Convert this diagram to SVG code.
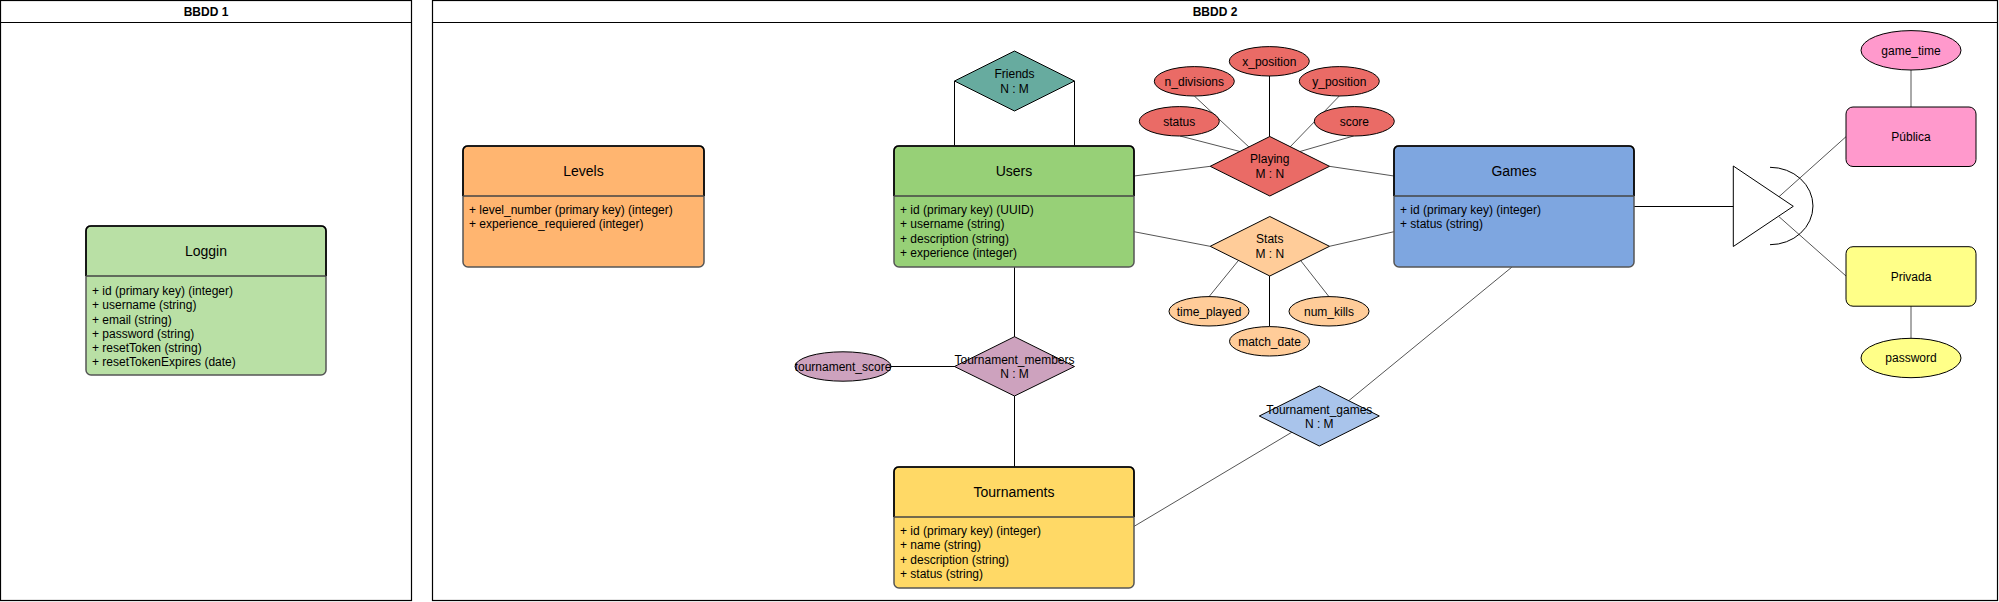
<svg xmlns="http://www.w3.org/2000/svg" width="1999" height="602" viewBox="0 0 1999 602">
<style>
text{font-family:"Liberation Sans",Arial,Helvetica,sans-serif;font-size:12px;fill:#000}
.c{text-anchor:middle}
.ttl{font-size:14px}
.b{font-weight:bold}
.frame{fill:#fff;stroke:#000;stroke-width:1.2}
.box{stroke:#555;stroke-width:1.5}
.hdr{fill:none;stroke:#000;stroke-width:1.6}
.div{stroke:#444;stroke-width:1.6}
.shp{stroke:#000;stroke-width:1}
.lnk{stroke:#000;stroke-width:1;fill:none}
.dlnk{stroke:#555;stroke-width:1;fill:none}
</style>

<g id="bbdd1">
<rect class="frame" x="0.5" y="0.5" width="411" height="600"/>
<line class="shp" x1="0.5" y1="22.5" x2="411.5" y2="22.5"/>
<text class="c b" x="206" y="15.7">BBDD 1</text>
</g>
<g id="bbdd2">
<rect class="frame" x="432.5" y="0.5" width="1565" height="600"/>
<line class="shp" x1="432.5" y1="22.5" x2="1997.5" y2="22.5"/>
<text class="c b" x="1215" y="15.7">BBDD 2</text>
</g>

<g id="connectors">
<path class="lnk" d="M954.5,81 V146 M1074.5,81 V146"/>
<line class="dlnk" x1="1134" y1="176" x2="1210.3" y2="166.3"/>
<line class="dlnk" x1="1329.3" y1="166.3" x2="1394" y2="176"/>
<line class="dlnk" x1="1134" y1="231.7" x2="1210" y2="246.3"/>
<line class="dlnk" x1="1329.5" y1="246.3" x2="1394" y2="231.7"/>
<line class="lnk" x1="1269.5" y1="76" x2="1269.5" y2="137"/>
<line class="dlnk" x1="1194.3" y1="96" x2="1250" y2="148"/>
<line class="dlnk" x1="1339.3" y1="96" x2="1289" y2="148"/>
<line class="dlnk" x1="1180" y1="136" x2="1240" y2="151.5"/>
<line class="dlnk" x1="1353.5" y1="136" x2="1300" y2="151.5"/>
<line class="dlnk" x1="1209" y1="296.7" x2="1238" y2="261"/>
<line class="dlnk" x1="1329" y1="296.7" x2="1301" y2="261"/>
<line class="lnk" x1="1269.5" y1="326.5" x2="1269.5" y2="276"/>
<line class="lnk" x1="1014.5" y1="267" x2="1014.5" y2="337"/>
<line class="lnk" x1="1014.5" y1="396" x2="1014.5" y2="467"/>
<line class="lnk" x1="891" y1="366.5" x2="955" y2="366.5"/>
<line class="dlnk" x1="1512" y1="267" x2="1330" y2="416"/>
<line class="dlnk" x1="1134" y1="526.4" x2="1319" y2="416"/>
<line class="lnk" x1="1634" y1="206.5" x2="1733.3" y2="206.5"/>
<line class="dlnk" x1="1779" y1="196.7" x2="1846" y2="136.7"/>
<line class="dlnk" x1="1779" y1="216.7" x2="1846" y2="276"/>
<line class="dlnk" x1="1911" y1="70" x2="1911" y2="107"/>
<line class="dlnk" x1="1911" y1="306" x2="1911" y2="338.5"/>
<polygon class="lnk" points="1733.3,166 1733.3,246.5 1793.3,206.3"/>
<path class="lnk" d="M1770,167.3 A43,38.7 0 0 1 1770,244.7"/>
</g>

<g id="loggin">
<rect class="box" x="86" y="226" width="240" height="149" rx="5" fill="#B9E0A5"/>
<path class="hdr" d="M86,276 V231 Q86,226 91,226 H321 Q326,226 326,231 V276"/>
<line class="div" x1="86" y1="276" x2="326" y2="276"/>
<text class="c ttl" x="206" y="256">Loggin</text>
<text x="92" y="295.2">+ id (primary key) (integer)</text>
<text x="92" y="309.4">+ username (string)</text>
<text x="92" y="323.6">+ email (string)</text>
<text x="92" y="337.8">+ password (string)</text>
<text x="92" y="352">+ resetToken (string)</text>
<text x="92" y="366.2">+ resetTokenExpires (date)</text>
</g>

<g id="levels">
<rect class="box" x="463" y="146" width="241" height="121" rx="5" fill="#FFB570"/>
<path class="hdr" d="M463,196 V151 Q463,146 468,146 H699 Q704,146 704,151 V196"/>
<line class="div" x1="463" y1="196" x2="704" y2="196"/>
<text class="c ttl" x="583.5" y="176">Levels</text>
<text x="469" y="214.2">+ level_number (primary key) (integer)</text>
<text x="469" y="228.2">+ experience_requiered (integer)</text>
</g>

<g id="users">
<rect class="box" x="894" y="146" width="240" height="121" rx="5" fill="#97D077"/>
<path class="hdr" d="M894,196 V151 Q894,146 899,146 H1129 Q1134,146 1134,151 V196"/>
<line class="div" x1="894" y1="196" x2="1134" y2="196"/>
<text class="c ttl" x="1014" y="176">Users</text>
<text x="900" y="214.2">+ id (primary key) (UUID)</text>
<text x="900" y="228.4">+ username (string)</text>
<text x="900" y="242.6">+ description (string)</text>
<text x="900" y="256.8">+ experience (integer)</text>
</g>

<g id="games">
<rect class="box" x="1394" y="146" width="240" height="121" rx="5" fill="#7EA6E0"/>
<path class="hdr" d="M1394,196 V151 Q1394,146 1399,146 H1629 Q1634,146 1634,151 V196"/>
<line class="div" x1="1394" y1="196" x2="1634" y2="196"/>
<text class="c ttl" x="1514" y="176">Games</text>
<text x="1400" y="214.2">+ id (primary key) (integer)</text>
<text x="1400" y="228.4">+ status (string)</text>
</g>

<g id="tournaments">
<rect class="box" x="894" y="467" width="240" height="121" rx="5" fill="#FFD966"/>
<path class="hdr" d="M894,517 V472 Q894,467 899,467 H1129 Q1134,467 1134,472 V517"/>
<line class="div" x1="894" y1="517" x2="1134" y2="517"/>
<text class="c ttl" x="1014" y="497">Tournaments</text>
<text x="900" y="535.2">+ id (primary key) (integer)</text>
<text x="900" y="549.4">+ name (string)</text>
<text x="900" y="563.6">+ description (string)</text>
<text x="900" y="577.8">+ status (string)</text>
</g>

<g id="friends">
<polygon class="shp" points="1014.5,51 1074.5,81 1014.5,111 954.5,81" fill="#67AB9F"/>
<text class="c" x="1014.5" y="77.7">Friends</text>
<text class="c" x="1014.5" y="92.7">N : M</text>
</g>

<g id="playing">
<polygon class="shp" points="1269.8,136.5 1329.5,166.3 1269.8,196 1210.2,166.3" fill="#EA6B66"/>
<text class="c" x="1269.8" y="162.5">Playing</text>
<text class="c" x="1269.8" y="178">M : N</text>
</g>
<g id="x_position"><ellipse class="shp" cx="1269.3" cy="61.3" rx="40" ry="14.7" fill="#EA6B66"/><text class="c" x="1269.3" y="65.5">x_position</text></g>
<g id="n_divisions"><ellipse class="shp" cx="1194.3" cy="81.3" rx="40" ry="14.7" fill="#EA6B66"/><text class="c" x="1194.3" y="85.5">n_divisions</text></g>
<g id="y_position"><ellipse class="shp" cx="1339.3" cy="81.3" rx="40" ry="14.7" fill="#EA6B66"/><text class="c" x="1339.3" y="85.5">y_position</text></g>
<g id="status"><ellipse class="shp" cx="1179.3" cy="121.3" rx="40" ry="14.7" fill="#EA6B66"/><text class="c" x="1179.3" y="125.5">status</text></g>
<g id="score"><ellipse class="shp" cx="1354.3" cy="121.3" rx="40" ry="14.7" fill="#EA6B66"/><text class="c" x="1354.3" y="125.5">score</text></g>

<g id="stats">
<polygon class="shp" points="1269.8,216.5 1329.5,246.3 1269.8,276 1210.2,246.3" fill="#FFCC99"/>
<text class="c" x="1269.8" y="242.5">Stats</text>
<text class="c" x="1269.8" y="258">M : N</text>
</g>
<g id="time_played"><ellipse class="shp" cx="1209" cy="311.3" rx="40" ry="14.7" fill="#FFCC99"/><text class="c" x="1209" y="315.5">time_played</text></g>
<g id="num_kills"><ellipse class="shp" cx="1329" cy="311.3" rx="40" ry="14.7" fill="#FFCC99"/><text class="c" x="1329" y="315.5">num_kills</text></g>
<g id="match_date"><ellipse class="shp" cx="1269.5" cy="341.3" rx="40" ry="14.7" fill="#FFCC99"/><text class="c" x="1269.5" y="345.5">match_date</text></g>

<g id="tournament_members">
<polygon class="shp" points="1014.5,336.7 1074.5,366.5 1014.5,396 954.5,366.5" fill="#CDA2BE"/>
<text class="c" x="1014.5" y="363.5">Tournament_members</text>
<text class="c" x="1014.5" y="378">N : M</text>
</g>
<g id="tournament_score"><ellipse class="shp" cx="843" cy="366.5" rx="48" ry="14.7" fill="#CDA2BE"/><text class="c" x="843" y="370.7">tournament_score</text></g>

<g id="tournament_games">
<polygon class="shp" points="1319.3,386 1379.3,416 1319.3,446 1259.3,416" fill="#A9C4EB"/>
<text class="c" x="1319.3" y="413.5">Tournament_games</text>
<text class="c" x="1319.3" y="428">N : M</text>
</g>

<g id="publica">
<rect class="shp" x="1846" y="107" width="130" height="59.5" rx="7" fill="#FF99CC"/>
<text class="c" x="1911" y="141">Pública</text>
</g>
<g id="game_time"><ellipse class="shp" cx="1911" cy="50.3" rx="50" ry="19.7" fill="#FF99CC"/><text class="c" x="1911" y="54.5">game_time</text></g>

<g id="privada">
<rect class="shp" x="1846" y="246.7" width="130" height="59.5" rx="7" fill="#FFFF88"/>
<text class="c" x="1911" y="280.6">Privada</text>
</g>
<g id="password"><ellipse class="shp" cx="1911" cy="358" rx="50" ry="19.7" fill="#FFFF88"/><text class="c" x="1911" y="362.2">password</text></g>
</svg>
